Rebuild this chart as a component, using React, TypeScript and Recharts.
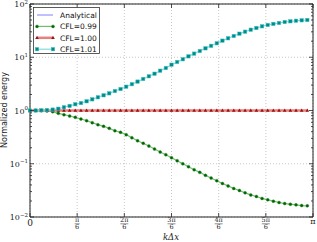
import React from 'react';
import {
  LineChart, Line, XAxis, YAxis, CartesianGrid, ReferenceLine, Legend,
} from 'recharts';

// k*dx sample points (50 points, 0 .. just under pi)
const kValues = [
  0, 0.0628, 0.1257, 0.1885, 0.2513, 0.3142, 0.3770, 0.4398, 0.5027, 0.5655,
  0.6283, 0.6912, 0.7540, 0.8168, 0.8796, 0.9425, 1.0053, 1.0681, 1.1310, 1.1938,
  1.2566, 1.3195, 1.3823, 1.4451, 1.5080, 1.5708, 1.6336, 1.6965, 1.7593, 1.8221,
  1.8850, 1.9478, 2.0106, 2.0735, 2.1363, 2.1991, 2.2619, 2.3248, 2.3876, 2.4504,
  2.5133, 2.5761, 2.6389, 2.7018, 2.7646, 2.8274, 2.8903, 2.9531, 3.0159, 3.0788,
];

const analytical = [
  1, 1, 1, 1, 1, 1, 1, 1, 1, 1, 1, 1, 1, 1, 1, 1, 1, 1, 1, 1, 1, 1, 1, 1, 1,
  1, 1, 1, 1, 1, 1, 1, 1, 1, 1, 1, 1, 1, 1, 1, 1, 1, 1, 1, 1, 1, 1, 1, 1, 1,
];

const cfl099 = [
  1.00, 1.00, 0.99, 0.98, 0.95, 0.885, 0.834, 0.789, 0.745, 0.692,
  0.644, 0.590, 0.542, 0.505, 0.462, 0.417, 0.389, 0.352, 0.309, 0.271,
  0.242, 0.215, 0.189, 0.166, 0.148, 0.130, 0.114, 0.100, 0.0879, 0.0773,
  0.0690, 0.0605, 0.0540, 0.0481, 0.0426, 0.0384, 0.0343, 0.0315, 0.0284, 0.0260,
  0.0243, 0.0223, 0.0210, 0.0198, 0.0187, 0.0179, 0.0174, 0.0169, 0.0164, 0.0162,
];

const cfl100 = [
  1, 1, 1, 1, 1, 1, 1, 1, 1, 1, 1, 1, 1, 1, 1, 1, 1, 1, 1, 1, 1, 1, 1, 1, 1,
  1, 1, 1, 1, 1, 1, 1, 1, 1, 1, 1, 1, 1, 1, 1, 1, 1, 1, 1, 1, 1, 1, 1, 1, 1,
];

const cfl101 = [
  1.00, 1.00, 1.01, 1.02, 1.04, 1.08, 1.15, 1.22, 1.31, 1.38,
  1.49, 1.62, 1.77, 1.93, 2.10, 2.32, 2.53, 2.80, 3.12, 3.49,
  3.91, 4.39, 4.91, 5.59, 6.28, 7.25, 8.15, 9.16, 10.4, 11.7,
  13.1, 14.7, 16.4, 18.3, 20.5, 22.7, 25.1, 27.7, 30.2, 32.9,
  35.4, 38.1, 40.4, 42.3, 44.0, 45.9, 47.3, 48.5, 49.4, 50.1,
];

const xTicks = [0, Math.PI / 6, (2 * Math.PI) / 6, (3 * Math.PI) / 6, (4 * Math.PI) / 6, (5 * Math.PI) / 6, Math.PI];
const xTickNumerators = ['0', 'π', '2π', '3π', '4π', '5π', 'π'];
const yMajor = [0.01, 0.1, 1, 10, 100];
const yExponents = ['−2', '−1', '0', '1', '2'];
const yMinor = [
  0.02, 0.03, 0.04, 0.05, 0.06, 0.07, 0.08, 0.09,
  0.2, 0.3, 0.4, 0.5, 0.6, 0.7, 0.8, 0.9,
  2, 3, 4, 5, 6, 7, 8, 9,
  20, 30, 40, 50, 60, 70, 80, 90,
];

const data = kValues.map((k, i) => ({
  k,
  analytical: analytical[i],
  cfl099: cfl099[i],
  cfl100: cfl100[i],
  cfl101: cfl101[i],
}));

const PLOT_LEFT = 30;
const PLOT_RIGHT = 313;
const PLOT_TOP = 4;
const AXIS = '#222';
const SERIF = '"DejaVu Serif", serif';
const SANS = '"DejaVu Sans", sans-serif';

const GreenDot = (p: any) => (
  <circle key={`g${p.index}`} cx={p.cx} cy={p.cy} r={1.5} fill="#006400" stroke="#2e8b2e" strokeWidth={0.4} />
);
const RedDot = (p: any) => (
  <polygon key={`r${p.index}`}
    points={`${p.cx},${p.cy - 2} ${p.cx - 1.8},${p.cy + 1.3} ${p.cx + 1.8},${p.cy + 1.3}`}
    fill="#9b1010" />
);
const CyanDot = (p: any) => (
  <rect key={`c${p.index}`} x={p.cx - 1.7} y={p.cy - 1.7} width={3.4} height={3.4}
    fill="#008b8b" stroke="#40c0c0" strokeWidth={0.5} />
);

function YTick(props: any) {
  const { x, y, payload } = props;
  const idx = yMajor.indexOf(payload.value);
  const len = idx >= 0 ? 4 : 2;
  return (
    <g>
      <line x1={PLOT_LEFT} x2={PLOT_LEFT + len} y1={y} y2={y} stroke={AXIS} strokeWidth={0.8} />
      <line x1={PLOT_RIGHT - len} x2={PLOT_RIGHT} y1={y} y2={y} stroke={AXIS} strokeWidth={0.8} />
      {idx >= 0 && (
        <text x={x - 2} y={y + 3} textAnchor="end" fontFamily={SERIF} fontSize={8} fill="#222">
          10<tspan dy={-3.5} fontSize={5.5}>{yExponents[idx]}</tspan>
        </text>
      )}
    </g>
  );
}

function XTick(props: any) {
  const { x, y, index } = props;
  const num = xTickNumerators[index];
  const ticks = (
    <>
      <line x1={x} x2={x} y1={y} y2={y - 4} stroke={AXIS} strokeWidth={0.8} />
      <line x1={x} x2={x} y1={PLOT_TOP} y2={PLOT_TOP + 4} stroke={AXIS} strokeWidth={0.8} />
    </>
  );
  if (index === 0 || index === xTicks.length - 1) {
    return (
      <g>
        {ticks}
        <text x={x} y={y + (index === 0 ? 9 : 6.5)} textAnchor="middle" fontFamily={SERIF}
          fontSize={index === 0 ? 9 : 8} fill="#222">{num}</text>
      </g>
    );
  }
  const half = num.length > 1 ? 4 : 2.5;
  return (
    <g>
      {ticks}
      <text x={x} y={y + 5.3} textAnchor="middle" fontFamily={SERIF} fontSize={6.5} fill="#222">{num}</text>
      <line x1={x - half} x2={x + half} y1={y + 6.8} y2={y + 6.8} stroke="#222" strokeWidth={0.5} />
      <text x={x} y={y + 12.3} textAnchor="middle" fontFamily={SERIF} fontSize={6.5} fill="#222">6</text>
    </g>
  );
}

const legendRows = [
  { name: 'Analytical', color: '#8080ff', width: 1, Marker: null as any },
  { name: 'CFL=0.99', color: '#6fbf6f', width: 1.2, Marker: GreenDot },
  { name: 'CFL=1.00', color: '#e88080', width: 2.5, Marker: RedDot },
  { name: 'CFL=1.01', color: '#7fdcdc', width: 1.2, Marker: CyanDot },
];

function LegendBox() {
  return (
    <svg width={67} height={47} style={{ display: 'block' }}>
      <rect x={0.5} y={0.5} width={66} height={46} fill="#fff" stroke="#333" strokeWidth={0.8} />
      {legendRows.map((r, i) => {
        const cy = 8 + i * 11.4;
        return (
          <g key={r.name}>
            <line x1={4} x2={20} y1={cy} y2={cy} stroke={r.color} strokeWidth={r.width} />
            {r.Marker && r.Marker({ cx: 4, cy, index: 0 })}
            {r.Marker && r.Marker({ cx: 20, cy, index: 1 })}
            <text x={27} y={cy + 3} fontFamily={SANS} fontSize={7.5} fill="#111">{r.name}</text>
          </g>
        );
      })}
    </svg>
  );
}

export default function App() {
  return (
    <div style={{ position: 'absolute', left: 0, top: 0 }}>
      <LineChart width={317} height={242} data={data}
        margin={{ top: PLOT_TOP, right: 4, bottom: 0, left: 0 }}>
        <CartesianGrid stroke="#b0b0b0" strokeDasharray="1 2" strokeWidth={0.7}
          horizontalValues={yMajor} verticalValues={xTicks} />
        <XAxis dataKey="k" type="number" domain={[0, Math.PI]} ticks={xTicks}
          interval={0} height={25} tickSize={0} tickMargin={0} tickLine={false}
          stroke={AXIS} tick={<XTick />}
          label={{
            content: () => (
              <text x={171} y={240} textAnchor="middle" fontFamily={SERIF}
                fontStyle="italic" fontSize={8.5} fill="#222">kΔx</text>
            ),
          }} />
        <YAxis type="number" scale="log" domain={[0.01, 100]} allowDataOverflow
          ticks={[...yMajor, ...yMinor]} interval={0} width={30} tickSize={0}
          tickMargin={0} tickLine={false} stroke={AXIS} tick={<YTick />}
          label={{
            content: () => (
              <text x={7} y={110} textAnchor="middle" transform="rotate(-90, 7, 110)"
                fontFamily={SANS} fontSize={8} fill="#222">Normalized energy</text>
            ),
          }} />
        <ReferenceLine y={100} stroke={AXIS} strokeWidth={1} />
        <ReferenceLine x={Math.PI} stroke={AXIS} strokeWidth={1} />
        <Legend layout="vertical" align="center" verticalAlign="middle"
          wrapperStyle={{ left: 33, top: 7, width: 67, height: 47 }}
          content={() => <LegendBox />} />
        <Line dataKey="analytical" stroke="#8080ff" strokeWidth={1} dot={false}
          isAnimationActive={false} />
        <Line dataKey="cfl099" stroke="#6fbf6f" strokeWidth={1.2} dot={GreenDot}
          isAnimationActive={false} />
        <Line dataKey="cfl100" stroke="#e88080" strokeWidth={2.5} dot={RedDot}
          isAnimationActive={false} />
        <Line dataKey="cfl101" stroke="#7fdcdc" strokeWidth={1.2} dot={CyanDot}
          isAnimationActive={false} />
      </LineChart>
    </div>
  );
}
